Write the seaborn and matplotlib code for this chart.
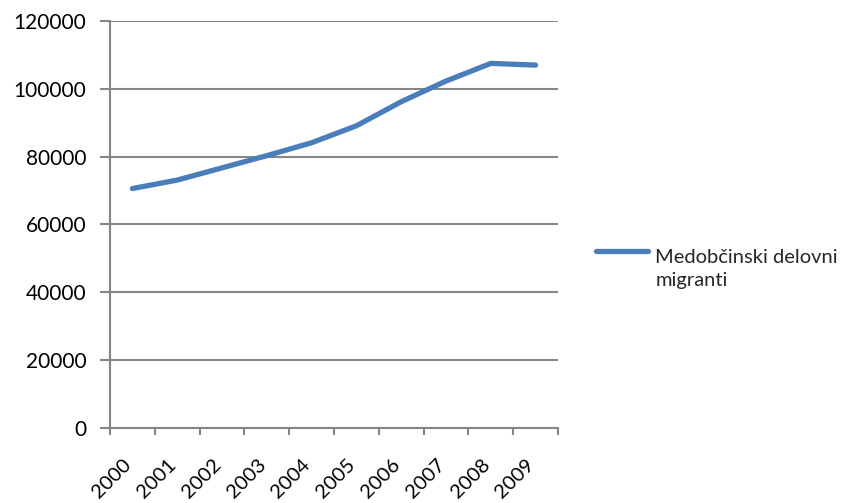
import seaborn as sns
import matplotlib.pyplot as plt
import pandas as pd
import numpy as np

sns.set_theme(style="white")
plt.rcParams['font.family'] = ['Lato', 'DejaVu Sans']

years = ['2000', '2001', '2002', '2003', '2004', '2005', '2006', '2007', '2008', '2009']
migrants = [70600, 73100, 76700, 80300, 84100, 89100, 96200, 102300, 107500, 107000]
series_name = 'Medobčinski delovni\nmigranti'
y_ticks = [0, 20000, 40000, 60000, 80000, 100000, 120000]

df = pd.DataFrame({'year': years, 'value': migrants})

grey = '#868686'
blue = '#4a7ebb'

fig = plt.figure(figsize=(8.56, 5.03), dpi=100)
ax = fig.add_axes([110 / 856, 75 / 503, 448 / 856, 407 / 503])

sns.lineplot(data=df, x='year', y='value', ax=ax, color=blue,
             linewidth=3.8, solid_capstyle='round', label=series_name)

ax.set_xlim(-0.5, len(years) - 0.5)
ax.set_ylim(0, 120000)
ax.set_yticks(y_ticks)
ax.set_yticklabels([str(v) for v in y_ticks])
ax.yaxis.grid(True, color=grey, linewidth=1.5)
ax.set_axisbelow(True)

# category ticks between the years
ax.set_xticks(np.arange(len(years)))
ax.set_xticklabels(years, rotation=45, ha='right', va='baseline', rotation_mode='anchor')
ax.set_xticks(np.arange(-0.5, len(years)), minor=True)
ax.tick_params(axis='x', which='major', length=0, pad=27, labelsize=14.5, colors='black')
ax.tick_params(axis='x', which='minor', length=5, width=1.5, color=grey, direction='out', bottom=True)
ax.tick_params(axis='y', length=7, width=1.5, color=grey, direction='out', left=True,
               pad=10, labelsize=15, labelcolor='black')

for side in ['top', 'right']:
    ax.spines[side].set_visible(False)
for side in ['left', 'bottom']:
    ax.spines[side].set_color(grey)
    ax.spines[side].set_linewidth(1.5)

ax.set_xlabel('')
ax.set_ylabel('')
leg = ax.legend(loc='center left', bbox_to_anchor=(1.085, 0.39), frameon=False,
                fontsize=14.5, handlelength=2.6, handletextpad=0.35,
                borderpad=0, borderaxespad=0)
for t in leg.get_texts():
    t.set_linespacing(1.45)
# lift the legend line to the first text line, as in the original
handle = leg.legend_handles[0]
handle.set_ydata(np.asarray(handle.get_ydata()) + 13)

fig.savefig('out.png', dpi=100)
